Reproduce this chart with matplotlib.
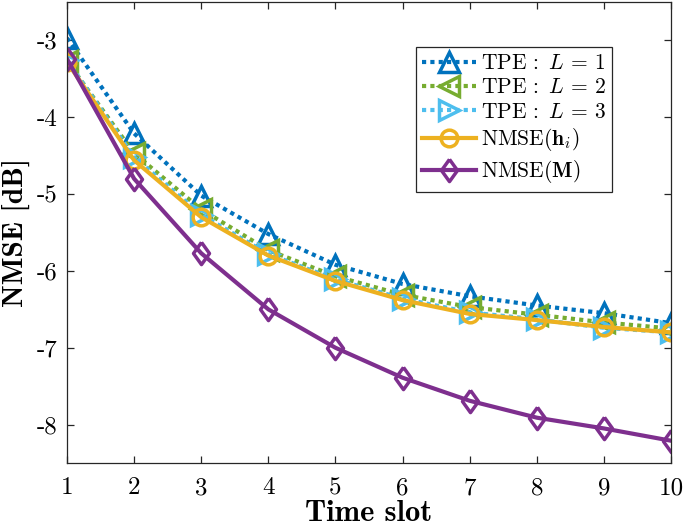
import matplotlib
matplotlib.use("Agg")
import matplotlib.pyplot as plt

# Values
time_slot = [1, 2, 3, 4, 5, 6, 7, 8, 9, 10]
tpe_l1 = [-2.97, -4.21, -5.02, -5.52, -5.92, -6.17, -6.33, -6.45, -6.55, -6.68]
tpe_l2 = [-3.27, -4.47, -5.20, -5.73, -6.07, -6.31, -6.47, -6.57, -6.67, -6.75]
tpe_l3 = [-3.26, -4.52, -5.27, -5.78, -6.11, -6.36, -6.54, -6.63, -6.74, -6.80]
nmse_h = [-3.28, -4.56, -5.30, -5.80, -6.13, -6.38, -6.56, -6.64, -6.73, -6.80]
nmse_m = [-3.24, -4.80, -5.77, -6.50, -7.00, -7.39, -7.69, -7.91, -8.05, -8.21]

labels = [r"$\mathrm{TPE}\,:\ L\,=\,1$", r"$\mathrm{TPE}\,:\ L\,=\,2$",
          r"$\mathrm{TPE}\,:\ L\,=\,3$",
          r"$\mathrm{NMSE}(\mathbf{h}_i)$", r"$\mathrm{NMSE}(\mathbf{M})$"]
colors = ["#0072BD", "#77AC30", "#4DBEEE", "#EDB120", "#7E2F8E"]

plt.rcParams["font.family"] = "cmr10"
plt.rcParams["mathtext.fontset"] = "cm"
plt.rcParams["axes.unicode_minus"] = False
plt.rcParams["axes.formatter.use_mathtext"] = False

DIAMOND = [(0, 1), (0.72, 0), (0, -1), (-0.72, 0), (0, 1)]
DOT = (0, (1, 1.0))

fig = plt.figure(figsize=(6.85, 5.3), dpi=100)
ax = fig.add_axes([67 / 685, 67 / 530, 604 / 685, 461 / 530])

series = [
    (tpe_l1, "^", DOT, 15),
    (tpe_l2, "<", DOT, 15),
    (tpe_l3, ">", DOT, 15),
    (nmse_h, "o", "-", 12),
    (nmse_m, DIAMOND, "-", 16),
]
for (vals, marker, ls, ms), lab, col in zip(series, labels, colors):
    ax.plot(time_slot, vals, linestyle=ls, marker=marker, color=col, lw=3,
            ms=ms, mfc="none", mew=2.5, label=lab, dash_capstyle="butt")

ax.set_xlim(1, 10)
ax.set_ylim(-8.5, -2.5)
ax.set_xticks(time_slot)
ax.set_yticks([-8, -7, -6, -5, -4, -3])
ax.tick_params(direction="in", length=5, width=0.9, labelsize=18,
               top=True, right=True, colors="#262626", labelcolor="black", pad=7)
ax.tick_params(axis="x", pad=10)
for sp in ax.spines.values():
    sp.set_color("#262626")
    sp.set_linewidth(0.9)

ax.set_xlabel("Time slot", family="cmb10", fontsize=22, labelpad=1)
ax.set_ylabel("NMSE [dB]", family="cmb10", fontsize=21, labelpad=5)

leg = ax.legend(loc="upper right", bbox_to_anchor=(0.902, 0.902), fontsize=15.5,
                handlelength=2.5, handletextpad=0.2, labelspacing=0.22,
                borderpad=0.3, borderaxespad=0, fancybox=False, framealpha=1)
leg.get_frame().set_edgecolor("#262626")
leg.get_frame().set_linewidth(0.9)

fig.savefig("out.png", dpi=100)
